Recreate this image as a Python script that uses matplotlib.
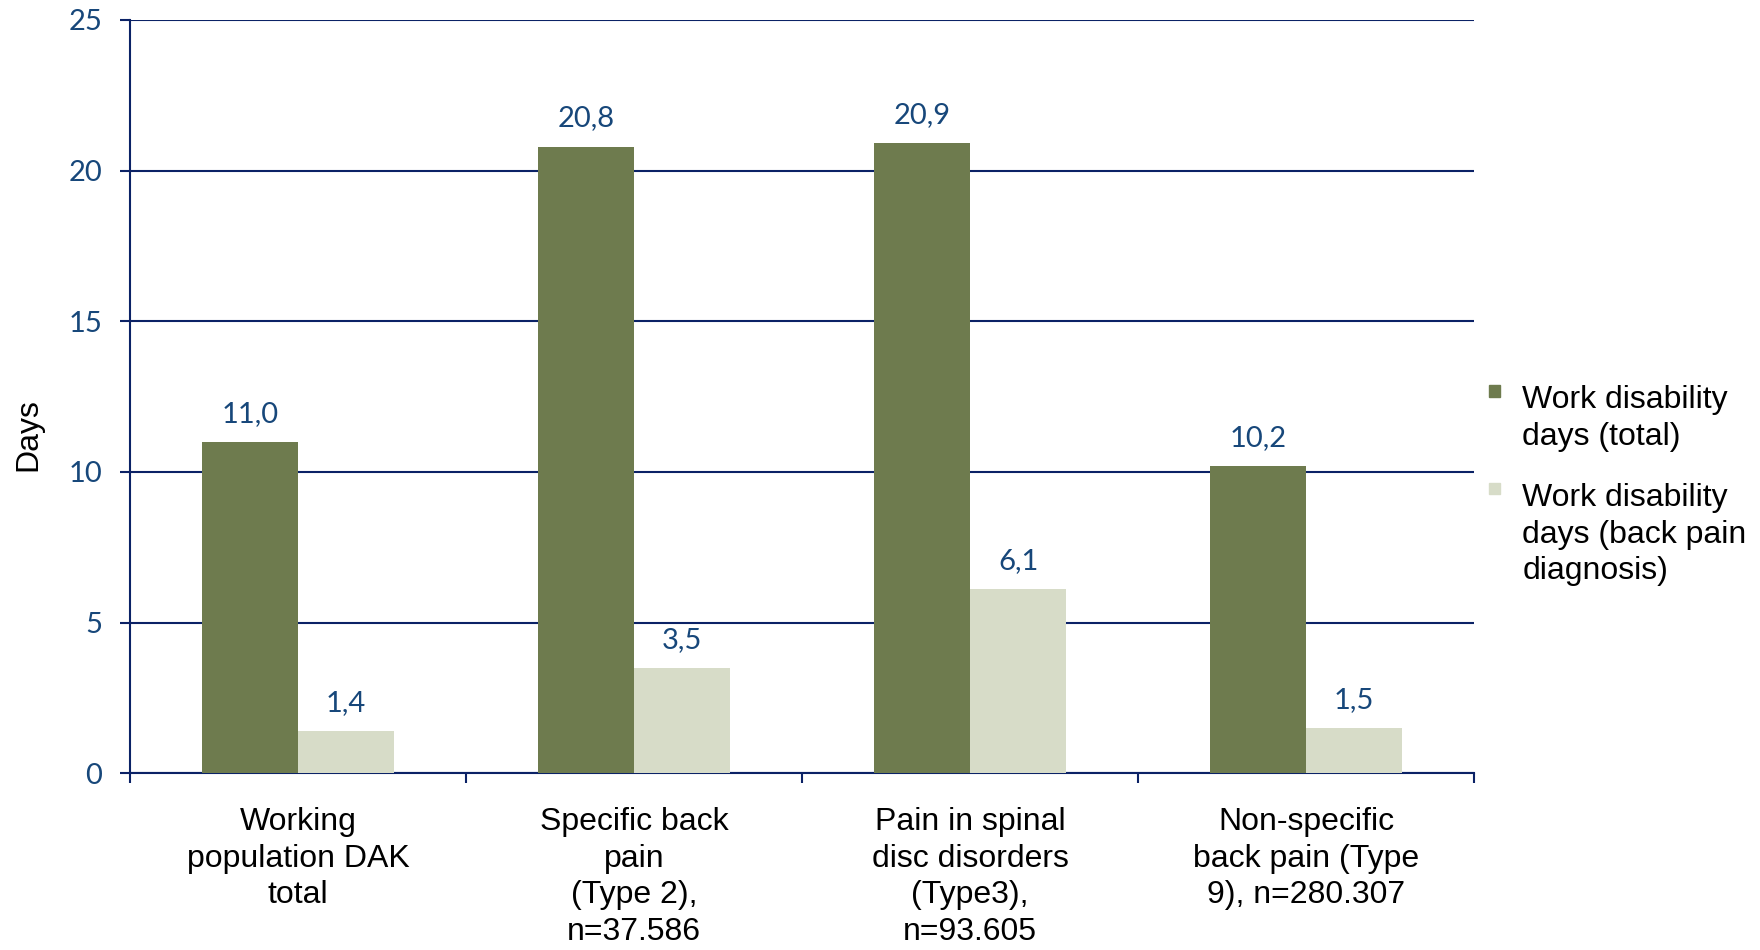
import numpy as np
import matplotlib.pyplot as plt
from matplotlib.patches import Rectangle

categories = [
    "Working\npopulation DAK\ntotal",
    "Specific back\npain\n(Type 2),\nn=37.586",
    "Pain in spinal\ndisc disorders\n(Type3),\nn=93.605",
    "Non-specific\nback pain (Type\n9), n=280.307",
]
days_total = [11.0, 20.8, 20.9, 10.2]
days_back_pain = [1.4, 3.5, 6.1, 1.5]
series_names = ["Work disability\ndays (total)",
                "Work disability\ndays (back pain\ndiagnosis)"]

dark_green = "#6e7b4e"
light_green = "#d7dcc8"
navy = "#0b2266"
num_blue = "#17477a"

fig = plt.figure(figsize=(17.6, 9.5), dpi=100)
ax = fig.add_axes([0.074, 0.186, 0.7635, 0.793])

x = np.arange(len(categories))
w = 0.286
b1 = ax.bar(x - w / 2, days_total, w, color=dark_green, zorder=3)
b2 = ax.bar(x + w / 2, days_back_pain, w, color=light_green, zorder=3)

# value labels with decimal comma
for bars, vals in ((b1, days_total), (b2, days_back_pain)):
    for rect, v in zip(bars, vals):
        ax.annotate(f"{v:.1f}".replace(".", ","),
                    (rect.get_x() + rect.get_width() / 2, v),
                    xytext=(0, 11), textcoords="offset points",
                    ha="center", va="bottom", fontsize=21,
                    family="Lato", color=num_blue)

ax.set_xlim(-0.5, 3.5)
ax.set_ylim(0, 25)
ax.set_yticks(range(0, 26, 5))
ax.grid(axis="y", color=navy, linewidth=1.5, zorder=0)
ax.tick_params(axis="y", direction="out", length=7, width=1.5, color=navy,
               labelsize=21, labelcolor=num_blue, pad=13)
for lab in ax.get_yticklabels():
    lab.set_family("Lato")

# ticks at the group boundaries, labels in the middle of each group
ax.set_xticks(np.arange(-0.5, 4, 1))
ax.set_xticklabels([])
ax.tick_params(axis="x", which="major", direction="out", length=7,
               width=1.5, color=navy)
ax.set_xticks(x, minor=True)
ax.set_xticklabels(categories, minor=True, fontsize=23,
                   family="Liberation Sans", linespacing=1.3)
ax.tick_params(axis="x", which="minor", length=0, pad=24)

for side in ("top", "right"):
    ax.spines[side].set_visible(False)
for side in ("left", "bottom"):
    ax.spines[side].set_color(navy)
    ax.spines[side].set_linewidth(1.5)

ax.set_ylabel("Days", fontsize=23, family="Liberation Sans")
ax.yaxis.set_label_coords(-0.065, 0.45)

# legend: small square beside the first line of each entry
leg_x = 0.846
leg_y = [0.589, 0.486]
for name, col, y0 in zip(series_names, (dark_green, light_green), leg_y):
    fig.patches.append(Rectangle((leg_x, y0 - 0.0065), 0.0065, 0.012,
                                 transform=fig.transFigure, color=col))
    fig.text(leg_x + 0.019, y0 + 0.006, name, ha="left", va="top",
             fontsize=23, family="Liberation Sans", linespacing=1.3)

fig.savefig("out.png", dpi=100)
